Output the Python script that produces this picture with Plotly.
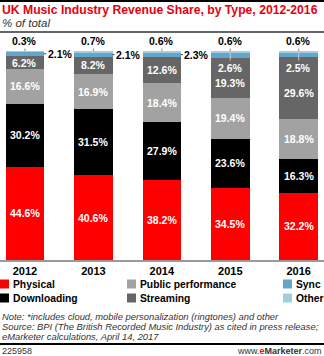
import plotly.graph_objects as go

years = ["2012", "2013", "2014", "2015", "2016"]
physical = [44.6, 40.6, 38.2, 34.5, 32.2]
downloading = [30.2, 31.5, 27.9, 23.6, 16.3]
public_perf = [16.6, 16.9, 18.4, 19.4, 18.8]
streaming = [6.2, 8.2, 12.6, 19.3, 29.6]
sync = [2.1, 2.1, 2.3, 2.6, 2.5]
other = [0.3, 0.7, 0.6, 0.6, 0.6]

series_names = ["Physical", "Downloading", "Public performance", "Streaming", "Sync", "Other"]
series_vals = [physical, downloading, public_perf, streaming, sync, other]
colors = ["#ff0000", "#000000", "#a2a2a2", "#666666", "#62a6cb", "#9fcfdf"]

W, H = 324, 356
TOP, BOT = 51, 260
FONT = "Liberation Sans, Arial, sans-serif"

def py(p):
    return (BOT - p) / (BOT - TOP)

def px(p):
    return p / W

fig = go.Figure()
for name, vals, col in zip(series_names, series_vals, colors):
    fig.add_trace(go.Bar(x=years, y=vals, name=name, marker=dict(color=col, line=dict(width=0)),
                         width=0.565, showlegend=False, hoverinfo="skip"))

ann = []
shapes = []
for i, yr in enumerate(years):
    base = 0
    cum = []
    for vals in series_vals:
        cum.append((base, base + vals[i]))
        base += vals[i]
    inside_sync = i >= 3
    for k in range(4):
        lo, hi = cum[k]
        shift = -5 if (k == 3 and inside_sync) else 0
        ann.append(dict(x=i, y=(lo + hi) / 2, text=f"<b>{series_vals[k][i]}%</b>", showarrow=False,
                        font=dict(family=FONT, size=10.5, color="white"), yshift=shift))
    ann.append(dict(x=i, y=100, text=f"<b>{other[i]}%</b>", showarrow=True, arrowhead=0, arrowwidth=1,
                    arrowcolor="#888888", ax=0, ay=-10, standoff=0,
                    font=dict(family=FONT, size=10.5, color="black")))
    lo, hi = cum[4]
    if inside_sync:
        ann.append(dict(x=i, y=100, text=f"<b>{sync[i]}%</b>", showarrow=True, arrowhead=0, arrowwidth=1,
                        arrowcolor="#c8c8c8", ax=0, ay=17, standoff=0,
                        font=dict(family=FONT, size=10.5, color="white")))
    else:
        ann.append(dict(x=i + 0.28, y=(lo + hi) / 2, text=f"<b>{sync[i]}%</b>", showarrow=True,
                        arrowhead=0, arrowwidth=1, arrowcolor="#333333", ax=16, ay=0, standoff=0,
                        font=dict(family=FONT, size=10.5, color="black")))

ann.append(dict(xref="paper", yref="paper", x=px(0), y=py(10), xanchor="left", yanchor="middle",
                text="<b>UK Music Industry Revenue Share, by Type, 2012-2016</b>", showarrow=False,
                font=dict(family=FONT, size=12.2, color="#e8000e")))
ann.append(dict(xref="paper", yref="paper", x=px(0), y=py(23), xanchor="left", yanchor="middle",
                text="<i>% of total</i>", showarrow=False,
                font=dict(family=FONT, size=11.5, color="#333333")))

leg_x = [0, 127, 283]
leg_order = [[0, 1], [2, 3], [4, 5]]
rows_y = [284, 298]
for cx, idxs in zip(leg_x, leg_order):
    for r, k in enumerate(idxs):
        yc = rows_y[r]
        shapes.append(dict(type="rect", xref="paper", yref="paper", x0=px(cx), x1=px(cx + 9),
                           y0=py(yc + 4.5), y1=py(yc - 4.5), fillcolor=colors[k], line=dict(width=0)))
        ann.append(dict(xref="paper", yref="paper", x=px(cx + 11), y=py(yc), xanchor="left", yanchor="middle",
                        text=f"<b>{series_names[k]}</b>", showarrow=False,
                        font=dict(family=FONT, size=10.3, color="black")))

notes = ["Note: *includes cloud, mobile personalization (ringtones) and other",
         "Source: BPI (The British Recorded Music Industry) as cited in press release;",
         "eMarketer calculations, April 14, 2017"]
for j, t in enumerate(notes):
    ann.append(dict(xref="paper", yref="paper", x=px(0), y=py(316 + 10 * j), xanchor="left", yanchor="middle",
                    text=f"<i>{t}</i>", showarrow=False,
                    font=dict(family=FONT, size=9.4, color="#333333")))
ann.append(dict(xref="paper", yref="paper", x=px(0), y=py(350.5), xanchor="left", yanchor="middle",
                text="225958", showarrow=False, font=dict(family=FONT, size=9, color="#333333")))
ann.append(dict(xref="paper", yref="paper", x=px(324), y=py(350.5), xanchor="right", yanchor="middle",
                text="www.<span style='color:#e8000e'><b>e</b></span><b>Marketer</b>.com", showarrow=False,
                font=dict(family=FONT, size=9, color="#333333")))

shapes.append(dict(type="rect", xref="paper", yref="paper", x0=0, x1=1, y0=py(2), y1=py(0),
                   fillcolor="black", line=dict(width=0)))
shapes.append(dict(type="line", xref="paper", yref="paper", x0=0, x1=1, y0=py(32), y1=py(32),
                   line=dict(color="#333333", width=1.5)))
shapes.append(dict(type="line", xref="paper", yref="paper", x0=0, x1=1, y0=py(344), y1=py(344),
                   line=dict(color="black", width=2)))

fig.update_layout(
    barmode="stack", width=W, height=H,
    margin=dict(l=0, r=0, t=TOP, b=H - BOT, pad=0),
    plot_bgcolor="white", paper_bgcolor="white",
    xaxis=dict(type="category", range=[-0.365, 4.37], showgrid=False, showline=True, linecolor="#999999",
               linewidth=1.5, ticks="", tickfont=dict(family=FONT, size=11, color="black"),
               tickvals=years, ticktext=[f"<b>{y}</b>" for y in years], fixedrange=True),
    yaxis=dict(range=[0, 100], showgrid=False, showticklabels=False, zeroline=False, showline=False,
               fixedrange=True),
    annotations=ann, shapes=shapes,
)
fig.write_html("out.html")
